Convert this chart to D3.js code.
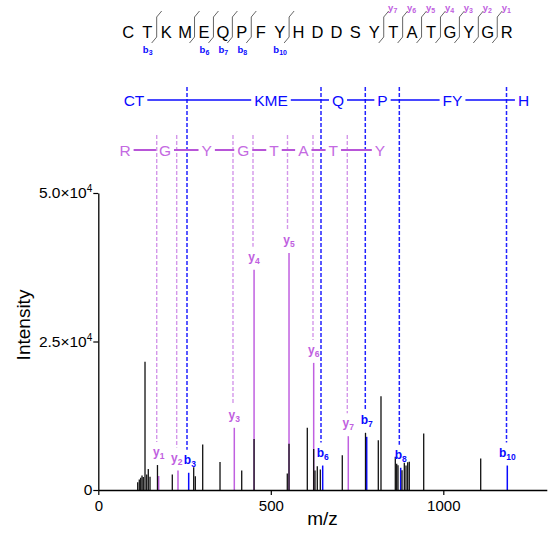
<!DOCTYPE html>
<html><head><meta charset="utf-8">
<script src="https://cdn.jsdelivr.net/npm/d3@7"></script>
<style>body{margin:0;background:#fff} svg{display:block;font-family:"Liberation Sans",Arial,sans-serif}</style>
</head><body><svg id="c" width="550" height="534"></svg>
<script>
// ---------- data ----------
const sequence = "CTKMEQPFYHDDSYTATGYGR".split("");
const bBracketAfter = [1, 3, 4, 5, 6, 8];
const bBracketLabels = ["3", "", "6", "7", "8", "10"];
const yBracketAfter = [13, 14, 15, 16, 17, 18, 19];
const yBracketLabels = ["7", "6", "5", "4", "3", "2", "1"];

const bRowLabels = ["CT", "KME", "Q", "P", "FY", "H"];
const bRowMz = [103.5, 500.6, 694.8, 823.8, 1026.7, 1232.5];
const yRowLabels = ["R", "G", "Y", "G", "T", "A", "T", "Y"];
const yRowMz = [77.4, 193.3, 314.2, 420.3, 509.3, 594.2, 681.2, 816.5];

const ionNames = ["y1", "y2", "b3", "y3", "y4", "y5", "y6", "b6", "y7", "b7", "b8", "b10"];
const ionTheoMz = [169.3, 227.2, 257.1, 390.4, 448.4, 548.4, 622.3, 645.5, 721.7, 773.9, 872.5, 1183.2];
const ionMz = [175, 231, 262, 394.2, 451.5, 552.8, 624.3, 650.4, 724.6, 778, 876.5, 1185.5];
const ionIntensity = [2360, 3280, 2900, 10470, 37100, 39900, 21400, 4120, 9060, 8950, 3740, 4120];

const peakMz = [114.2, 118.8, 122.9, 126.7, 130.4, 135.4, 140.3, 144.9, 149.9, 171.5, 214.5, 276.5, 281.2,
  302.6, 352.8, 415.7, 451.5, 547.8, 552.8, 605.8, 624.3, 628.1, 634.8, 643.5, 707.2, 774.5, 811.6, 819.4,
  860.9, 864.9, 868.7, 880.3, 887, 891.9, 896.8, 901.4, 943.2, 1108.4];
const peakIntensity = [1300, 1770, 2050, 2440, 2200, 21600, 2600, 3550, 2250, 4200, 2600, 3840, 2330,
  7660, 4700, 3280, 8600, 2780, 7800, 10470, 6900, 3280, 4000, 3450, 5860, 9630, 8380, 15800,
  5590, 4400, 4180, 3330, 4570, 4120, 4680, 4740, 9510, 5300];

const xTicks = [0, 500, 1000];
const yTicks = [0, 25000, 50000];
const yTickText = ["0", "2.5\u00d710", "5.0\u00d710"];
const yTickExp = ["", "4", "4"];

// ---------- style ----------
const BLUE = "#0a0aff", BLUE_D = "#2222ff";
const PURP = "#c060e0", PURP_D = "#d497ea", PURP_T = "#c46ae2";

const svg = d3.select("#c");
const x = d3.scaleLinear().domain([0, 1300]).range([98.3, 546.8]);
const y = d3.scaleLinear().domain([0, 50000]).range([490, 193]);

// ---------- sequence map ----------
const sp = d3.scalePoint().domain(d3.range(sequence.length)).range([128.3, 506.7]);
const step = sp.step();
const gSeq = svg.append("g");
gSeq.selectAll("text.res").data(sequence).join("text")
  .attr("x", (d, i) => sp(i)).attr("y", 37.5).attr("text-anchor", "middle")
  .attr("font-size", 16.5).attr("fill", "#000").text(d => d);

function bracket(g, i) {
  const bx = sp(i) + step / 2;
  g.append("path")
    .attr("d", `M${bx + 5},11 L${bx},17 L${bx},37 L${bx - 5},43`)
    .attr("fill", "none").attr("stroke", "#555").attr("stroke-width", 0.9);
  return bx;
}
bBracketAfter.forEach((a, k) => {
  const bx = bracket(gSeq, a);
  if (bBracketLabels[k]) {
    const t = gSeq.append("text").attr("x", bx - 9).attr("y", 53).attr("text-anchor", "middle")
      .attr("font-size", 9.5).attr("font-weight", "bold").attr("fill", BLUE);
    t.append("tspan").text("b");
    t.append("tspan").attr("font-size", 7).attr("dy", 2).text(bBracketLabels[k]);
  }
});
yBracketAfter.forEach((a, k) => {
  const bx = bracket(gSeq, a);
  const t = gSeq.append("text").attr("x", bx + 9).attr("y", 11).attr("text-anchor", "middle")
    .attr("font-size", 9.5).attr("font-weight", "bold").attr("fill", PURP);
  t.append("tspan").text("y");
  t.append("tspan").attr("font-size", 7).attr("dy", 2).text(yBracketLabels[k]);
});

// ---------- label positions ----------
const ions = ionNames.map((n, i) => {
  let maxI = ionIntensity[i];
  peakMz.forEach((m, j) => { if (Math.abs(m - ionMz[i]) <= 4) maxI = Math.max(maxI, peakIntensity[j]); });
  return { name: n, type: n[0], num: n.slice(1), theo: ionTheoMz[i], mz: ionMz[i], inten: ionIntensity[i], labelBase: y(maxI) - 9 };
});

// ---------- dashed guide lines ----------
const gDash = svg.append("g");
ions.filter(d => d.type === "y").forEach(d => {
  gDash.append("line").attr("x1", x(d.theo)).attr("x2", x(d.theo))
    .attr("y1", 135).attr("y2", d.labelBase - 14)
    .attr("stroke", PURP_D).attr("stroke-width", 1.4).attr("stroke-dasharray", "4,2");
});
ions.filter(d => d.type === "b").forEach(d => {
  gDash.append("line").attr("x1", x(d.theo)).attr("x2", x(d.theo))
    .attr("y1", 87).attr("y2", d.labelBase - 14)
    .attr("stroke", BLUE_D).attr("stroke-width", 1.5).attr("stroke-dasharray", "4,2");
});

// ---------- fragment rows ----------
function row(labels, mzs, yy, color, lineColor, lw) {
  const g = svg.append("g");
  const txt = g.selectAll("text").data(labels).join("text")
    .attr("x", (d, i) => x(mzs[i])).attr("y", yy + 5.5).attr("text-anchor", "middle")
    .attr("font-size", 15.5).attr("fill", color).text(d => d);
  const widths = txt.nodes().map(n => n.getComputedTextLength());
  for (let i = 0; i < labels.length - 1; i++) {
    const x1 = x(mzs[i]) + widths[i] / 2 + 3, x2 = x(mzs[i + 1]) - widths[i + 1] / 2 - 3;
    g.append("line").attr("x1", x1).attr("x2", x2).attr("y1", yy).attr("y2", yy)
      .attr("stroke", lineColor).attr("stroke-width", lw);
  }
}
row(bRowLabels, bRowMz, 100, BLUE, BLUE, 1.5);
row(yRowLabels, yRowMz, 150, PURP_T, "#b855d8", 2);

// ---------- peaks ----------
const gPk = svg.append("g");
gPk.selectAll("line.ion").data(ions).join("line")
  .attr("x1", d => x(d.mz)).attr("x2", d => x(d.mz)).attr("y1", y(0)).attr("y2", d => y(d.inten))
  .attr("stroke", d => d.type === "y" ? PURP : BLUE).attr("stroke-width", 1.5);
gPk.selectAll("line.pk").data(peakMz).join("line")
  .attr("x1", d => x(d)).attr("x2", d => x(d)).attr("y1", y(0)).attr("y2", (d, i) => y(peakIntensity[i]))
  .attr("stroke", "#111").attr("stroke-width", 1.3);

// ion labels centred on their peaks, then pushed apart where neighbours collide
const labelNodes = ions.map(d => {
  const t = svg.append("text").attr("x", x(d.mz)).attr("y", d.labelBase).attr("text-anchor", "middle")
    .attr("font-size", 12).attr("font-weight", "bold").attr("fill", d.type === "y" ? PURP : BLUE);
  t.append("tspan").text(d.type);
  t.append("tspan").attr("font-size", 8.5).attr("dy", 3).text(d.num);
  return { t, cx: x(d.mz) };
});
for (let i = 1; i < labelNodes.length; i++) {
  const a = labelNodes[i - 1], b = labelNodes[i];
  const ba = a.t.node().getBBox(), bb = b.t.node().getBBox();
  const vOverlap = ba.y < bb.y + bb.height && bb.y < ba.y + ba.height;
  const hOver = ba.x + ba.width + 1 - bb.x;
  if (vOverlap && hOver > 0) {
    a.cx -= hOver / 2; b.cx += hOver / 2;
    a.t.attr("x", a.cx); b.t.attr("x", b.cx);
  }
}

// ---------- axes ----------
const gx = svg.append("g").attr("transform", `translate(0,${y(0)})`)
  .call(d3.axisBottom(x).tickValues(xTicks).tickSize(5).tickSizeOuter(0).tickFormat(d3.format("d")));
gx.select(".domain").attr("stroke-width", 1.3);
gx.selectAll(".tick line").attr("stroke-width", 1.2);
gx.selectAll(".tick text").attr("font-size", 15).attr("font-family", "Liberation Sans, Arial").attr("dy", "0.85em").attr("fill", "#000");

const gy = svg.append("g").attr("transform", `translate(${x(0)},0)`)
  .call(d3.axisLeft(y).tickValues(yTicks).tickSize(5).tickSizeOuter(0).tickFormat(() => ""));
gy.select(".domain").attr("stroke-width", 1.3);
gy.selectAll(".tick line").attr("stroke-width", 1.2);
gy.selectAll(".tick text").each(function (d, i) {
  const t = d3.select(this).attr("font-size", 15.5).attr("font-family", "Liberation Sans, Arial").attr("fill", "#000").attr("x", -6);
  t.append("tspan").text(yTickText[i]);
  if (yTickExp[i]) t.append("tspan").attr("font-size", 10).attr("dy", "-0.6em").text(yTickExp[i]);
});

svg.append("text").attr("x", (x.range()[0] + x.range()[1]) / 2).attr("y", 525)
  .attr("text-anchor", "middle").attr("font-size", 19).text("m/z");
svg.append("text").attr("transform", "translate(30,325) rotate(-90)")
  .attr("text-anchor", "middle").attr("font-size", 19).text("Intensity");
</script></body></html>
